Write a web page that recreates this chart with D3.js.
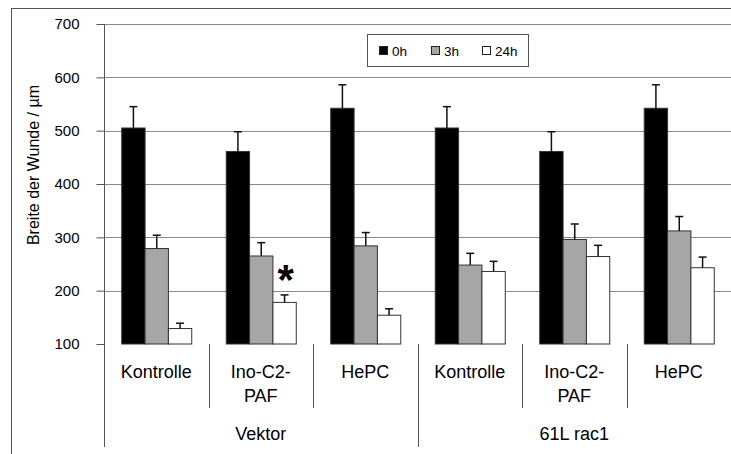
<!DOCTYPE html>
<html>
<head>
<meta charset="utf-8">
<script src="https://cdn.jsdelivr.net/npm/d3@7"></script>
<style>
  html, body { margin: 0; padding: 0; background: #fff; }
  svg { display: block; font-family: "Liberation Sans", Arial, sans-serif; }
</style>
</head>
<body>
<svg id="chart" width="731" height="454"></svg>
<script>
// Wound width per treatment and cell line, at 0h / 3h / 24h (mean and error)
const categories = ["Kontrolle", "Ino-C2-PAF", "HePC", "Kontrolle", "Ino-C2-PAF", "HePC"];
const categoryLines = [["Kontrolle"], ["Ino-C2-", "PAF"], ["HePC"], ["Kontrolle"], ["Ino-C2-", "PAF"], ["HePC"]];
const groups = ["Vektor", "61L rac1"];
const seriesNames = ["0h", "3h", "24h"];
const values0h = [505, 461, 542, 505, 461, 542];
const err0h = [40, 37, 44, 40, 37, 44];
const values3h = [279, 265, 284, 248, 296, 312];
const err3h = [25, 25, 25, 22, 29, 27];
const values24h = [129, 178, 154, 236, 264, 243];
const err24h = [10, 14, 12, 19, 21, 20];
const yTicks = [100, 200, 300, 400, 500, 600, 700];
const significant = [{ cat: 1, series: "24h" }];

const seriesValues = { "0h": values0h, "3h": values3h, "24h": values24h };
const seriesErr = { "0h": err0h, "3h": err3h, "24h": err24h };
const fills = { "0h": "#000000", "3h": "#a6a6a6", "24h": "#ffffff" };

const svg = d3.select("#chart");
const plotLeft = 104, plotRight = 731, plotTop = 24, plotBottom = 344;

// outer frame
svg.append("rect").attr("x", 11.5).attr("y", 8.5).attr("width", 760).attr("height", 500)
  .attr("fill", "none").attr("stroke", "#555").attr("stroke-width", 1);

const idx = d3.range(categories.length);
const x0 = d3.scaleBand().domain(idx).range([plotLeft, plotRight]).paddingInner(0.33).paddingOuter(0.165);
const x1 = d3.scaleBand().domain(seriesNames).range([0, x0.bandwidth()]);
const y = d3.scaleLinear().domain([100, 700]).range([plotBottom, plotTop]);

// gridlines
svg.append("g").selectAll("line").data(yTicks.filter(t => t > 100)).join("line")
  .attr("x1", plotLeft).attr("x2", plotRight)
  .attr("y1", d => Math.round(y(d)) + 0.5).attr("y2", d => Math.round(y(d)) + 0.5)
  .attr("stroke", "#8a8a8a").attr("stroke-width", 1);

// y axis
const yAxis = d3.axisLeft(y).tickValues(yTicks).tickSize(8).tickPadding(17).tickFormat(d3.format("d"));
const gy = svg.append("g").attr("transform", `translate(${plotLeft + 0.5},0)`).call(yAxis);
gy.select(".domain").remove();
gy.selectAll(".tick line").attr("stroke", "#555");
gy.selectAll(".tick text").attr("font-size", 15).attr("fill", "#000")
  .attr("font-family", "'Liberation Sans', Arial, sans-serif");
svg.append("line").attr("x1", plotLeft + 0.5).attr("x2", plotLeft + 0.5).attr("y1", plotTop).attr("y2", 447)
  .attr("stroke", "#555");

// y label
svg.append("text").attr("transform", `translate(39,165) rotate(-90)`)
  .attr("text-anchor", "middle").attr("font-size", 16).text("Breite der Wunde / µm");

// bars
const flat = [];
idx.forEach(i => seriesNames.forEach(s => flat.push({ i, s, v: seriesValues[s][i], e: seriesErr[s][i] })));

svg.append("g").selectAll("rect").data(flat).join("rect")
  .attr("x", d => x0(d.i) + x1(d.s) + 0.5)
  .attr("y", d => y(d.v))
  .attr("width", x1.bandwidth())
  .attr("height", d => y(100) - y(d.v))
  .attr("fill", d => fills[d.s])
  .attr("stroke", "#333").attr("stroke-width", 1);

// error bars
const eb = svg.append("g").attr("stroke", "#111").attr("stroke-width", 1.5);
eb.selectAll("line.v").data(flat).join("line").attr("class", "v")
  .attr("x1", d => x0(d.i) + x1(d.s) + x1.bandwidth() / 2 + 0.5)
  .attr("x2", d => x0(d.i) + x1(d.s) + x1.bandwidth() / 2 + 0.5)
  .attr("y1", d => y(d.v)).attr("y2", d => y(d.v + d.e));
eb.selectAll("line.c").data(flat).join("line").attr("class", "c")
  .attr("x1", d => x0(d.i) + x1(d.s) + x1.bandwidth() / 2 - 3.5)
  .attr("x2", d => x0(d.i) + x1(d.s) + x1.bandwidth() / 2 + 4.5)
  .attr("y1", d => y(d.v + d.e)).attr("y2", d => y(d.v + d.e));

// significance marker
svg.append("g").selectAll("text").data(significant).join("text")
  .attr("x", d => x0(d.cat) + x1(d.series) + x1.bandwidth() / 2 + 1.5)
  .attr("y", d => y(seriesValues[d.series][d.cat] + seriesErr[d.series][d.cat]) - 1)
  .attr("text-anchor", "middle").attr("font-size", 42).attr("font-weight", "bold").text("*");

// category separators
const step = x0.step();
const sepX = d3.range(categories.length + 1).map(k => plotLeft + k * step);
svg.append("g").selectAll("line").data(sepX).join("line")
  .attr("x1", d => Math.round(d) + 0.5).attr("x2", d => Math.round(d) + 0.5)
  .attr("y1", plotBottom)
  .attr("y2", (d, k) => (k % 3 === 0 ? 447 : 408))
  .attr("stroke", "#555");

// category labels
const cl = svg.append("g").attr("font-size", 18).attr("text-anchor", "middle");
idx.forEach(i => {
  const cx = x0(i) + x0.bandwidth() / 2;
  categoryLines[i].forEach((ln, j) => {
    cl.append("text").attr("x", cx).attr("y", 372 + j * 24).attr("dy", "0.35em").text(ln);
  });
});

// group labels
svg.append("g").selectAll("text").data(groups).join("text")
  .attr("x", (d, g) => plotLeft + (g * 3 + 1.5) * step)
  .attr("y", 434).attr("dy", "0.35em").attr("font-size", 18).attr("text-anchor", "middle")
  .text(d => d);

// legend
const lg = svg.append("g");
lg.append("rect").attr("x", 367.5).attr("y", 34.5).attr("width", 161).attr("height", 32)
  .attr("fill", "#fff").attr("stroke", "#555");
const legendX = [379, 431, 482];
seriesNames.forEach((s, k) => {
  lg.append("rect").attr("x", legendX[k] + 0.5).attr("y", 46.5).attr("width", 8).attr("height", 8)
    .attr("fill", fills[s]).attr("stroke", "#222");
  lg.append("text").attr("x", legendX[k] + 13).attr("y", 51).attr("dy", "0.35em")
    .attr("font-size", 13.5).text(s);
});
</script>
</body>
</html>
